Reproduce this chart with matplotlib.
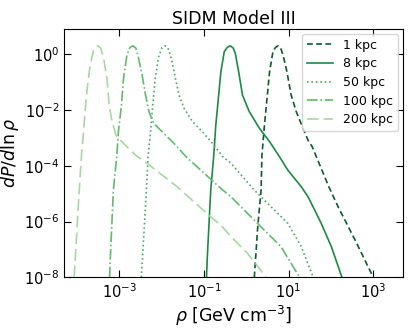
import matplotlib
matplotlib.use('Agg')
import matplotlib.pyplot as plt
import matplotlib.ticker as ticker
import numpy as np

# values, as log10(rho) and log10(dP/dln rho)
lx_1 = [0.19, 0.27, 0.35, 0.37, 0.43, 0.49, 0.55, 0.63, 0.69, 0.75, 0.81, 0.87, 0.96, 1.06, 1.18, 1.34, 1.46, 1.56, 1.95, 2.17, 2.57, 3.00]
ly_1 = [-8.0, -6.19, -4.87, -3.61, -2.53, -1.58, -0.62, 0.10, 0.25, 0.31, 0.23, -0.03, -0.62, -1.46, -2.05, -2.65, -3.08, -3.32, -4.75, -5.47, -6.66, -8.0]

lx_8 = [-0.94, -0.92, -0.84, -0.77, -0.72, -0.66, -0.60, -0.52, -0.45, -0.38, -0.31, -0.26, -0.18, -0.09, 0.07, 0.31, 0.55, 0.78, 0.98, 1.30, 1.46, 1.77, 2.01, 2.26]
ly_8 = [-8.0, -7.26, -4.87, -3.66, -2.53, -1.58, -0.62, 0.10, 0.25, 0.31, 0.23, 0.04, -0.62, -1.46, -2.05, -2.65, -3.13, -3.66, -4.15, -4.75, -5.11, -6.06, -6.90, -8.0]

lx_50 = [-2.48, -2.44, -2.36, -2.32, -2.26, -2.21, -2.15, -2.07, -1.99, -1.92, -1.85, -1.79, -1.69, -1.59, -1.47, -1.27, -1.04, -0.80, -0.56, -0.36, 0.19, 0.98, 1.30, 1.58]
ly_50 = [-8.0, -7.02, -4.87, -3.66, -2.77, -1.82, -0.86, -0.08, 0.25, 0.31, 0.23, -0.03, -0.74, -1.46, -1.93, -2.41, -2.77, -3.19, -3.66, -3.91, -4.87, -6.06, -6.90, -8.0]

lx_100 = [-3.23, -3.21, -3.14, -3.06, -3.02, -2.95, -2.90, -2.82, -2.75, -2.68, -2.61, -2.56, -2.46, -2.38, -2.30, -2.19, -1.99, -1.67, -1.43, -0.60, -0.36, 0.19, 0.82, 1.26]
ly_100 = [-8.0, -7.26, -4.87, -3.66, -2.77, -1.82, -0.86, -0.03, 0.25, 0.31, 0.23, -0.03, -0.74, -1.46, -2.05, -2.47, -2.77, -3.25, -3.66, -4.81, -5.11, -5.95, -6.90, -8.0]

lx_200 = [-4.07, -4.05, -3.97, -3.89, -3.85, -3.81, -3.75, -3.69, -3.61, -3.57, -3.51, -3.44, -3.37, -3.29, -3.24, -3.17, -3.08, -2.94, -2.62, -2.34, -1.63, -0.84, -0.60, -0.36, 0.03, 0.47]
ly_200 = [-8.0, -7.62, -5.47, -3.55, -2.90, -2.07, -1.11, -0.39, 0.14, 0.25, 0.31, 0.23, -0.14, -0.86, -1.82, -2.41, -2.89, -3.13, -3.61, -3.91, -4.75, -5.83, -6.13, -6.54, -7.14, -8.0]

labels = ['1 kpc', '8 kpc', '50 kpc', '100 kpc', '200 kpc']
colors = ['#0d5a2c', '#1d8a43', '#45ac5e', '#62bb6d', '#a5d99e']

fig = plt.figure(figsize=(4.09, 3.29), dpi=100)
ax = fig.add_axes([0.157, 0.157, 0.828, 0.754])

series = [(lx_1, ly_1), (lx_8, ly_8), (lx_50, ly_50), (lx_100, ly_100), (lx_200, ly_200)]
styles = [dict(linestyle='--', dashes=(3.5, 2)), dict(linestyle='-'), dict(linestyle=':'),
          dict(linestyle='-.'), dict(linestyle='--', dashes=(7, 3))]
for (lx, ly), lab, c, st in zip(series, labels, colors, styles):
    ax.plot(10 ** np.array(lx), 10 ** np.array(ly), color=c, lw=1.2, label=lab, **st)

ax.set_xscale('log')
ax.set_yscale('log')
ax.set_xlim(5e-5, 5e3)
ax.set_ylim(1e-8, 8)
ax.xaxis.set_major_locator(ticker.FixedLocator([1e-3, 1e-1, 1e1, 1e3]))
ax.yaxis.set_major_locator(ticker.FixedLocator([1e-8, 1e-6, 1e-4, 1e-2, 1e0]))
ax.xaxis.set_minor_locator(ticker.NullLocator())
ax.yaxis.set_minor_locator(ticker.NullLocator())
ax.tick_params(which='both', direction='in', top=True, right=True, length=5, labelsize=10.5)

ax.set_xlabel(r'$\rho$ [GeV cm$^{-3}$]', fontsize=12.5, labelpad=2)
ax.set_ylabel(r'$dP/d\ln\rho$', fontsize=12.5, labelpad=2)
ax.set_title('SIDM Model III', fontsize=12.5, pad=4)
ax.legend(loc='upper right', fontsize=9, handlelength=2.1, borderaxespad=0.35, labelspacing=0.45)

plt.savefig('out.png', dpi=100)
